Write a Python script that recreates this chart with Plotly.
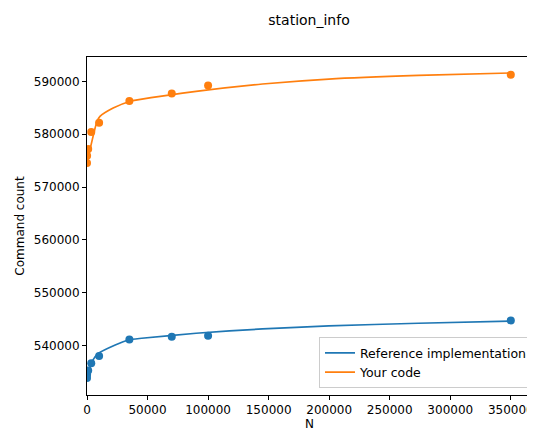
import plotly.graph_objects as go

# Measured points
N = [10, 100, 1000, 3500, 10000, 35000, 70000, 100000, 350000]
ref_counts = [533900, 534500, 535300, 536670, 538050, 541170, 541700, 541890, 544770]
your_counts = [574550, 575930, 577200, 580420, 582180, 586290, 587730, 589240, 591270]

# Fitted curves
ref_fit_N = [10, 4100, 9600, 23300, 34300, 45200, 90100, 144900, 199700, 273600, 350000]
ref_fit = [533690, 536970, 538560, 540130, 541080, 541400, 542350, 543160, 543730, 544240, 544640]
your_fit_N = [10, 8200, 10700, 21600, 35300, 90100, 144900, 199700, 273600, 350000]
your_fit = [574600, 582370, 583370, 584960, 586210, 588110, 589510, 590450, 591140, 591600]

x_ticks = [0, 50000, 100000, 150000, 200000, 250000, 300000, 350000]
y_ticks = [540000, 550000, 560000, 570000, 580000, 590000]

BLUE = "#1f77b4"
ORANGE = "#ff7f0e"

fig = go.Figure()
fig.add_trace(go.Scatter(x=ref_fit_N, y=ref_fit, mode="lines", name="Reference implementation",
                         line=dict(color=BLUE, width=1.7, shape="spline", smoothing=0.6)))
fig.add_trace(go.Scatter(x=your_fit_N, y=your_fit, mode="lines", name="Your code",
                         line=dict(color=ORANGE, width=1.7, shape="spline", smoothing=0.6)))
fig.add_trace(go.Scatter(x=N, y=ref_counts, mode="markers", showlegend=False,
                         marker=dict(color=BLUE, size=8)))
fig.add_trace(go.Scatter(x=N, y=your_counts, mode="markers", showlegend=False,
                         marker=dict(color=ORANGE, size=8)))

W, H = 527, 424
font = "DejaVu Sans, sans-serif"
fig.update_layout(
    width=W, height=H,
    margin=dict(l=79, r=1, t=49, b=37),
    paper_bgcolor="white", plot_bgcolor="white",
    font=dict(family=font, size=12, color="#000"),
    title=dict(text="station_info", x=301 / W, xanchor="center",
               y=1 - 12 / H, yanchor="middle", font=dict(size=14, family=font)),
    showlegend=True,
    legend=dict(x=1.0, y=0.02, xanchor="right", yanchor="bottom",
                bgcolor="rgba(255,255,255,0.8)", bordercolor="#cccccc", borderwidth=1,
                font=dict(size=12.5, family=font), itemwidth=30, tracegroupgap=0),
    xaxis=dict(range=[0, 367500], tickvals=x_ticks, ticktext=[str(v) for v in x_ticks],
               showgrid=False, zeroline=False, showline=True, mirror=True,
               linecolor="#000", linewidth=1, ticks="outside", ticklen=4, tickcolor="#000",
               tickfont=dict(size=12), ticklabeloverflow="allow",
               title=dict(text="N", font=dict(size=12), standoff=2)),
    yaxis=dict(range=[530663, 594621], tickvals=y_ticks, ticktext=[str(v) for v in y_ticks],
               showgrid=False, zeroline=False, showline=True,
               linecolor="#000", linewidth=1, ticks="outside", ticklen=4, tickcolor="#000",
               tickfont=dict(size=12),
               title=dict(text="Command count", font=dict(size=12), standoff=6)),
)

fig.write_html("out.html")
